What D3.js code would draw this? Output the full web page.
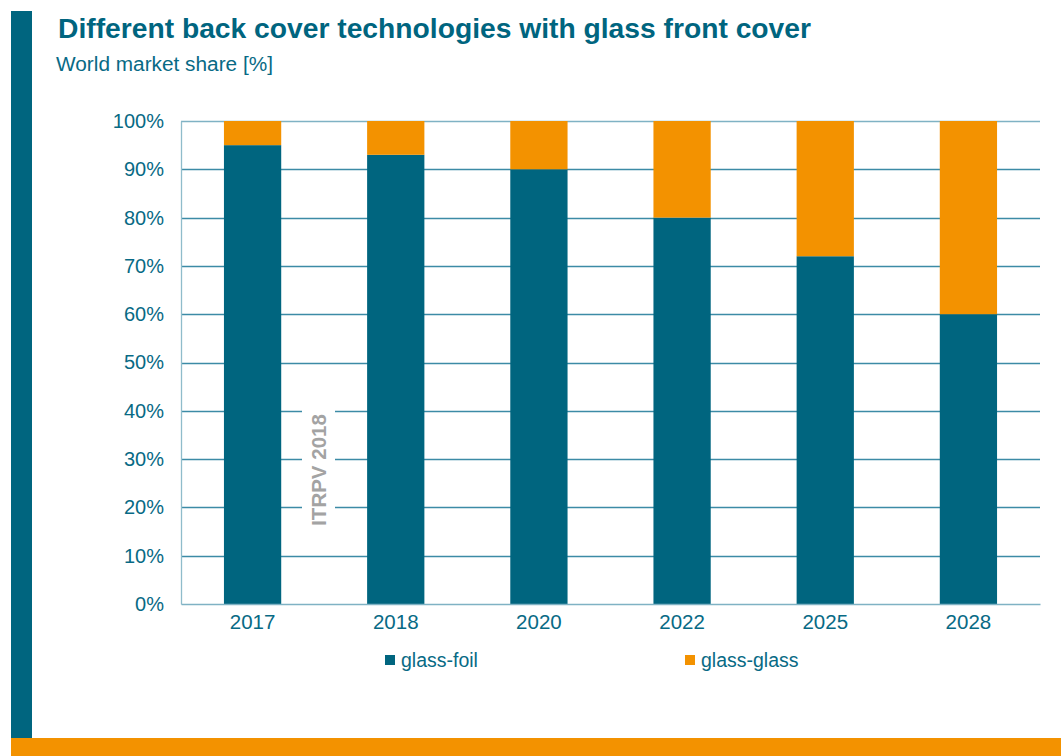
<!DOCTYPE html>
<html>
<head>
<meta charset="utf-8">
<script src="https://cdn.jsdelivr.net/npm/d3@7"></script>
<style>
  html, body { margin: 0; padding: 0; background: #fff; }
  svg { display: block; font-family: "Liberation Sans", Arial, sans-serif; }
</style>
</head>
<body>
<svg id="chart" width="1061" height="756"></svg>
<script>
// Market share of back cover technologies (glass front cover), in percent
const years = ["2017", "2018", "2020", "2022", "2025", "2028"];
const glassFoil = [95, 93, 90, 80, 72, 60];
const glassGlass = [5, 7, 10, 20, 28, 40];
const seriesNames = ["glass-foil", "glass-glass"];
const yTicks = [0, 10, 20, 30, 40, 50, 60, 70, 80, 90, 100];

const teal = "#00657f";
const orange = "#f39200";
const textColor = "#086a85";
const font = "'Liberation Sans', Arial, sans-serif";

const svg = d3.select("#chart");

// Frame decorations: vertical bar on the left, band along the bottom
svg.append("rect").attr("x", 11).attr("y", 11).attr("width", 21).attr("height", 727).attr("fill", teal);
svg.append("rect").attr("x", 11).attr("y", 738).attr("width", 1050).attr("height", 18).attr("fill", orange);

// Titles
svg.append("text").attr("x", 58).attr("y", 38)
  .attr("font-size", 27).attr("font-weight", "bold").attr("fill", teal)
  .attr("textLength", 753).attr("lengthAdjust", "spacingAndGlyphs")
  .text("Different back cover technologies with glass front cover");
svg.append("text").attr("x", 56).attr("y", 71)
  .attr("font-size", 20).attr("fill", textColor)
  .attr("textLength", 217).attr("lengthAdjust", "spacingAndGlyphs")
  .text("World market share [%]");

const plot = { left: 181, right: 1040, top: 121, bottom: 604 };

const x = d3.scaleBand().domain(years).range([plot.left, plot.right]).paddingInner(0.6).paddingOuter(0.3);
const y = d3.scaleLinear().domain([0, 100]).range([plot.bottom, plot.top]);

// Horizontal gridlines
svg.append("g").selectAll("line").data(yTicks.filter(d => d > 0)).join("line")
  .attr("x1", plot.left).attr("x2", plot.right)
  .attr("y1", d => Math.round(y(d)) + 0.5).attr("y2", d => Math.round(y(d)) + 0.5)
  .attr("stroke", d => d === 100 ? "#7fb2c4" : "#3c8ba6").attr("stroke-width", 1.3);

// Stacked bars
const rows = years.map((yr, i) => ({ year: yr, "glass-foil": glassFoil[i], "glass-glass": glassGlass[i] }));
const stacked = d3.stack().keys(seriesNames)(rows);
const color = d3.scaleOrdinal().domain(seriesNames).range([teal, orange]);

svg.append("g").selectAll("g").data(stacked).join("g")
  .attr("fill", s => color(s.key))
  .selectAll("rect").data(s => s).join("rect")
  .attr("x", d => x(d.data.year))
  .attr("width", x.bandwidth())
  .attr("y", d => y(d[1]))
  .attr("height", d => y(d[0]) - y(d[1]));

// Source label, with a white backing that breaks the gridlines
const note = svg.append("g").attr("transform", "translate(319,470) rotate(-90)");
note.append("rect").attr("x", -62).attr("y", -17).attr("width", 124).attr("height", 33).attr("fill", "#fff");
note.append("text").attr("text-anchor", "middle").attr("dy", "0.36em")
  .attr("font-size", 20.5).attr("font-weight", "bold").attr("fill", "#a3a3a3")
  .text("ITRPV 2018");

// Y axis
const yAxis = svg.append("g").attr("transform", `translate(${plot.left},0)`)
  .call(d3.axisLeft(y).tickValues(yTicks).tickFormat(d => d + "%").tickSize(0).tickPadding(17));
yAxis.select(".domain").attr("stroke", "#8fbccb").attr("stroke-width", 1.3);
yAxis.selectAll("text").attr("font-size", 20).attr("fill", textColor).attr("font-family", font);

// X axis
const xAxis = svg.append("g").attr("transform", `translate(0,${plot.bottom})`)
  .call(d3.axisBottom(x).tickSize(0).tickPadding(10));
xAxis.select(".domain").attr("stroke", "#7fb2c4").attr("stroke-width", 1.3);
xAxis.selectAll("text").attr("font-size", 20.5).attr("fill", textColor).attr("font-family", font);

// Legend
const legendX = [385, 685];
const legend = svg.append("g").selectAll("g").data(seriesNames).join("g")
  .attr("transform", (d, i) => `translate(${legendX[i]},655)`);
legend.append("rect").attr("width", 10).attr("height", 10).attr("fill", d => color(d));
legend.append("text").attr("x", 16).attr("y", 5).attr("dy", "0.36em")
  .attr("font-size", 19.5).attr("fill", textColor).text(d => d);
</script>
</body>
</html>
